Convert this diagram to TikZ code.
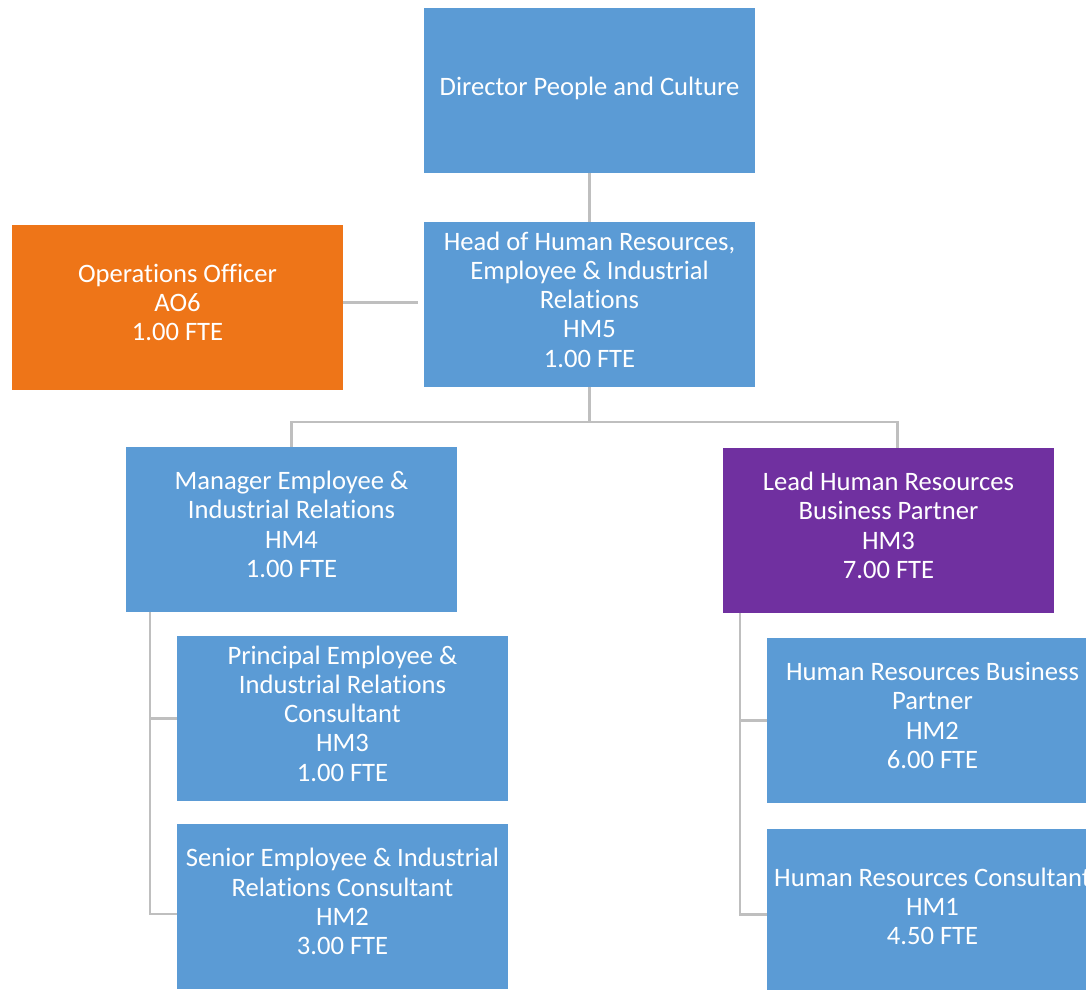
\documentclass[tikz,border=0pt]{standalone}
\usepackage{fontspec}
\setmainfont{Carlito}[Ligatures={NoCommon}]
\definecolor{boxblue}{RGB}{91,155,213}
\definecolor{boxorange}{RGB}{238,117,24}
\definecolor{boxpurple}{RGB}{112,48,160}
\definecolor{linkgray}{RGB}{191,191,191}
\begin{document}
\begin{tikzpicture}[x=1pt,y=-1pt,
  role/.style 2 args={rectangle,inner sep=0pt,minimum width=331pt,minimum height=165pt,
    fill=boxblue,draw=none,
    label={[text=white,align=center,yshift=#2,
            font=\fontsize{26.6}{29.3}\selectfont]center:{#1}}},
  role/.default={}{5pt},
  link/.style={draw=linkgray,line width=2.4pt}]
\useasboundingbox (0,0) rectangle (1086,989);
\clip (0,0) rectangle (1086,989);

% boxes
\node[role={Director People and Culture}{2pt}] (dir) at (589.5,90.5) {};
\node[role={Head of Human Resources,\\Employee \& Industrial\\Relations\\HM5\\1.00 FTE}{5pt}] (head) at (589.5,304.5) {};
\node[role={Operations Officer\\AO6\\1.00 FTE}{5pt},fill=boxorange] (ops) at (177.5,307.5) {};
\node[role={Manager Employee \&\\Industrial Relations\\HM4\\1.00 FTE}{5pt}] (mgr) at (291.5,529.5) {};
\node[role={Lead Human Resources\\Business Partner\\HM3\\7.00 FTE}{5pt},fill=boxpurple] (lead) at (888.5,530.5) {};
\node[role={Principal Employee \&\\Industrial Relations\\Consultant\\HM3\\1.00 FTE}{5pt}] (prin) at (342.5,718.5) {};
\node[role={Senior Employee \& Industrial\\Relations Consultant\\HM2\\3.00 FTE}{5pt}] (sen) at (342.5,906.5) {};
\node[role={Human Resources Business\\Partner\\HM2\\6.00 FTE}{5pt}] (hrbp) at (932.5,720.5) {};
\node[role={Human Resources Consultant\\HM1\\4.50 FTE}{5pt}] (hrc) at (932.5,911.5) {};

% reporting lines
\draw[link] (dir.south) -- (head.north);

\coordinate (opsend) at ([xshift=-6pt]head.west);
\draw[link] ([yshift=5pt]ops.east) coordinate (opsstart) -- (opsstart -| opsend);

\coordinate (bus) at ([yshift=-35pt]head.south);
\coordinate (leadtop) at ([xshift=9pt]lead.north);
\draw[link] (head.south) -- (bus);
\draw[link] (mgr.north) |- (bus);
\draw[link] (leadtop) |- (bus);

\coordinate (mgrspine) at ([xshift=24pt]mgr.south west);
\coordinate (senjoin) at ([yshift=-7.5pt]sen.west);
\draw[link] (mgrspine) -- (mgrspine |- senjoin) -- (senjoin);
\draw[link] (prin.west) -- (prin.west -| mgrspine);

\coordinate (leadspine) at ([xshift=17pt]lead.south west);
\coordinate (hrcjoin) at ([yshift=-3pt]hrc.west);
\draw[link] (leadspine) -- (leadspine |- hrcjoin) -- (hrcjoin);
\draw[link] (hrbp.west) -- (hrbp.west -| leadspine);
\end{tikzpicture}
\end{document}
